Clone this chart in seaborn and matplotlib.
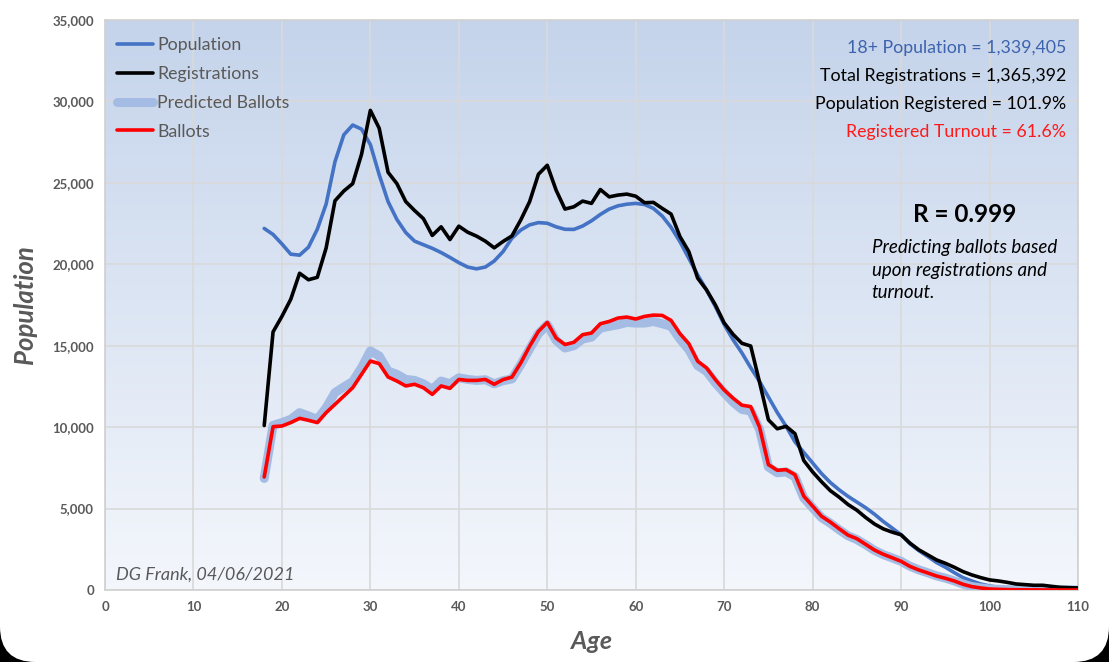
import numpy as np
import pandas as pd
import matplotlib
matplotlib.use("Agg")
import matplotlib.pyplot as plt
import seaborn as sns
from matplotlib.patches import FancyBboxPatch, Rectangle
from matplotlib.ticker import FuncFormatter, MultipleLocator

# ages 18..110
ages = list(range(18, 111))

population = [
    22200, 21830, 21250, 20620, 20560, 21050, 22150, 23700, 26300, 27950,
    28550, 28300, 27350, 25500, 23850, 22750, 21950, 21420, 21200, 20980,
    20720, 20420, 20100, 19830, 19720, 19830, 20200, 20780, 21600, 22100,
    22420, 22560, 22520, 22300, 22150, 22140, 22350, 22670, 23060, 23390,
    23590, 23690, 23740, 23670, 23430, 22960, 22270, 21390, 20370, 19350,
    18430, 17410, 16300, 15370, 14560, 13650, 12800, 11850, 10900, 10050,
    9100, 8450, 7800, 7150, 6600, 6150, 5750, 5400, 5050, 4650,
    4200, 3800, 3390, 2840, 2420, 2060, 1690, 1400, 1070, 760,
    555, 370, 250, 165, 125, 80, 60, 40, 30, 20,
    15, 10, 5,
]

registrations = [
    10100, 15850, 16800, 17850, 19450, 19050, 19200, 21000, 23900, 24500,
    24950, 26750, 29450, 28350, 25650, 24950, 23850, 23300, 22800, 21770,
    22300, 21520, 22340, 21970, 21730, 21420, 21010, 21400, 21740, 22720,
    23840, 25530, 26080, 24550, 23390, 23530, 23880, 23740, 24590, 24140,
    24250, 24310, 24180, 23780, 23800, 23430, 23080, 21700, 20780, 19150,
    18430, 17510, 16400, 15700, 15150, 14980, 12750, 10450, 9900, 10050,
    9600, 7950, 7250, 6650, 6100, 5700, 5250, 4900, 4450, 4050,
    3750, 3550, 3390, 2880, 2470, 2160, 1850, 1640, 1400, 1130,
    925, 760, 620, 555, 470, 370, 330, 290, 290, 225,
    165, 145, 125,
]

predicted = [
    6850, 10110, 10280, 10480, 10890, 10690, 10480, 11190, 12120, 12470,
    12800, 13650, 14680, 14370, 13450, 13240, 12930, 12870, 12660, 12320,
    12830, 12660, 13030, 12930, 12870, 12910, 12660, 12850, 12960, 13840,
    14800, 15740, 16290, 15330, 14860, 15000, 15410, 15530, 16080, 16190,
    16290, 16430, 16390, 16390, 16490, 16350, 16190, 15410, 14760, 13780,
    13430, 12720, 12110, 11540, 11090, 10990, 9860, 7550, 7200, 7250,
    6950, 5650, 5050, 4450, 4100, 3700, 3330, 3100, 2780, 2430,
    2170, 1970, 1760, 1460, 1240, 1060, 870, 730, 560, 360,
    210, 130, 65, 40, 25, 15, 10, 8, 5, 3,
    2, 1, 0,
]

ballots = [
    6940, 10030, 10070, 10280, 10540, 10420, 10280, 10890, 11400, 11910,
    12420, 13240, 14060, 13900, 13080, 12830, 12530, 12630, 12420, 12010,
    12530, 12380, 12930, 12870, 12870, 12930, 12630, 12920, 13070, 13940,
    14960, 15880, 16430, 15470, 15070, 15210, 15680, 15780, 16350, 16490,
    16700, 16760, 16640, 16800, 16880, 16860, 16550, 15740, 15130, 14050,
    13640, 12920, 12280, 11780, 11350, 11260, 10000, 7700, 7350, 7390,
    7080, 5760, 5150, 4530, 4170, 3760, 3370, 3150, 2800, 2450,
    2190, 1980, 1760, 1450, 1230, 1050, 860, 720, 555, 350,
    205, 125, 60, 40, 25, 15, 10, 8, 5, 3,
    2, 1, 0,
]

stats_lines = [
    ("18+ Population = 1,339,405", "#3d63ad"),
    ("Total Registrations = 1,365,392", "black"),
    ("Population Registered = 101.9%", "black"),
    ("Registered Turnout = 61.6%", "#ff1a1a"),
]

df = pd.DataFrame({
    "Age": ages,
    "Population": population,
    "Registrations": registrations,
    "Predicted Ballots": predicted,
    "Ballots": ballots,
})

sns.set_theme(style="white")
plt.rcParams["font.family"] = ["Lato", "DejaVu Sans"]

gray = "#595959"
fig = plt.figure(figsize=(11.09, 6.62), dpi=100)
fig.patch.set_facecolor("black")
# rounded white card; top corners stay square
fig.patches.append(FancyBboxPatch((0, 0), 1, 1, boxstyle="round,pad=0,rounding_size=0.032",
                                  transform=fig.transFigure, facecolor="white",
                                  edgecolor="none", mutation_aspect=1109 / 662, zorder=-10))
fig.patches.append(Rectangle((0, 0.5), 1, 0.5, transform=fig.transFigure,
                             facecolor="white", edgecolor="none", zorder=-10))

ax = fig.add_axes([105 / 1109, 1 - 590 / 662, 973 / 1109, 570 / 662])
ax.set_zorder(1)

# gradient plot background
grad = np.linspace(0, 1, 256).reshape(-1, 1)
top_c = np.array([0.772, 0.831, 0.922])
bot_c = np.array([0.955, 0.967, 0.988])
img = top_c + (bot_c - top_c) * grad
ax.imshow(img[:, None, :].repeat(2, axis=1), extent=[0, 1, 0, 1], transform=ax.transAxes,
          aspect="auto", zorder=0, interpolation="bicubic")

sns.lineplot(data=df, x="Age", y="Population", ax=ax, color="#4472c4", lw=2.6,
             label="Population", zorder=3)
sns.lineplot(data=df, x="Age", y="Registrations", ax=ax, color="black", lw=2.6,
             label="Registrations", zorder=4)
sns.lineplot(data=df, x="Age", y="Predicted Ballots", ax=ax, color="#a4bce3", lw=6.5,
             label="Predicted Ballots", zorder=3, solid_capstyle="round")
sns.lineplot(data=df, x="Age", y="Ballots", ax=ax, color="#ff0000", lw=2.6,
             label="Ballots", zorder=5)

ax.set_xlim(0, 110)
ax.set_ylim(0, 35000)
ax.xaxis.set_major_locator(MultipleLocator(10))
ax.yaxis.set_major_locator(MultipleLocator(5000))
ax.yaxis.set_major_formatter(FuncFormatter(lambda v, p: f"{int(v):,}"))
ax.grid(True, color="#d9d9d9", lw=1.2, zorder=1)
for s in ax.spines.values():
    s.set_color("#d0d0d0")
    s.set_linewidth(1.2)
ax.tick_params(axis="both", length=0, labelsize=9.5, labelcolor=gray, pad=8)
for lbl in ax.get_xticklabels() + ax.get_yticklabels():
    lbl.set_fontweight("bold")

ax.set_xlabel("Age", fontsize=18, fontstyle="italic", fontweight="bold", color=gray, labelpad=12)
ax.set_ylabel("Population", fontsize=18.5, fontstyle="italic", fontweight="bold", color=gray, labelpad=11)

leg = ax.legend(loc="upper left", frameon=False, fontsize=12.8, labelcolor=gray,
                handlelength=2.0, handletextpad=0.25, labelspacing=0.72,
                bbox_to_anchor=(-0.004, 0.998))

for i, (txt, col) in enumerate(stats_lines):
    ax.text(0.988, 0.95 - i * 0.049, txt, transform=ax.transAxes, ha="right", va="center",
            fontsize=12.8, color=col)

ax.text(0.884, 0.659, "R = 0.999", transform=ax.transAxes, ha="center", va="center",
        fontsize=17.5, fontweight="bold", color="black")
ax.text(0.788, 0.615, "Predicting ballots based\nupon registrations and\nturnout.",
        transform=ax.transAxes, ha="left", va="top", fontsize=13.5, fontstyle="italic",
        color="black", linespacing=1.38)
ax.text(0.011, 0.027, "DG Frank, 04/06/2021", transform=ax.transAxes, ha="left", va="center",
        fontsize=13, fontstyle="italic", color=gray)

fig.savefig("out.png", dpi=100, facecolor=fig.get_facecolor())
